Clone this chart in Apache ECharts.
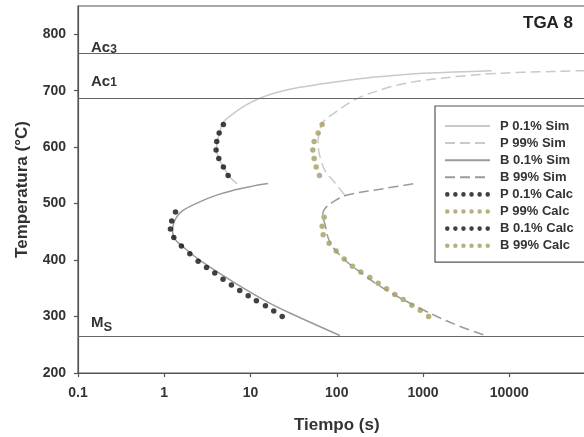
<!DOCTYPE html>
<html>
<head>
<meta charset="utf-8">
<script src="https://cdn.jsdelivr.net/npm/echarts@6/dist/echarts.min.js"></script>
<style>
html,body{margin:0;padding:0;overflow:hidden;background:#fff;}
#c{width:600px;height:437px;}
</style>
</head>
<body>
<div id="c"></div>
<script>
// ---- data ----
const xTickLabels = ['0.1', '1', '10', '100', '1000', '10000', ''];
const thresholdNames = ['Ac3', 'Ac1', 'Ms'];
const thresholdValues = [766, 687, 265];

const pSim01 = [[7.0,535.3],[5.75,547],[4.85,565],[4.3,580],[4.05,595],[4.1,610],[4.4,625],[4.8,644],[6.3,659],[8.5,673],[12.8,686.6],[20,696.8],[37.3,706],[90.8,715],[222,722.6],[540,728],[1000,731],[6250,735.5]];
const pSim99 = [[124,515],[95,537],[72.8,559],[66,576],[62,592],[60.8,606],[61.5,620],[63.7,632],[70,645],[90.8,659],[170,685.5],[347,703],[540,710.8],[1000,718],[2455,725],[5970,730],[14500,732.5],[72000,735.5],[100000,736]];
const bSim01 = [[16,535.5],[9.8,530],[6.3,523.5],[4.04,515],[2.58,503],[1.65,488],[1.39,476],[1.27,462],[1.25,450],[1.33,437],[1.58,426],[2.58,400],[6.3,361.4],[14.7,328.3],[28.6,306.2],[108.6,266.5]];
const bSim99 = [[769,535],[347,526.5],[130,514.7],[90.8,503],[72.8,491],[68.4,479],[72.8,464.6],[83.2,432],[118.6,403],[177,381.5],[347,350],[1000,312],[2450,285],[5720,265]];

const pCalcTemp = [640,625,610,595,580,565,550];
const pCalc01Time = [4.85,4.33,4.06,3.99,4.29,4.85,5.5];
const pCalc99Time = [67.7,60.8,54.7,52.8,54.7,57.7,63];
const bCalc01Temp = [485,469,455,440,425,411,398,387,377,366,356,346,337,328,319,310,300];
const bCalc01Time = [1.35,1.22,1.18,1.29,1.58,1.98,2.47,3.09,3.85,4.8,6.0,7.5,9.4,11.7,14.9,18.6,23.3];
const bCalc99Temp = [476,460,445,430,416,402,389,379,369,359,349,339,330,320,311,300];
const bCalc99Time = [71.4,67.7,69.6,81.6,98.4,122,152,190,242,302,378,472,589,743,929,1161];

// ---- build ----
const zip = (xs, ys) => xs.map((x, i) => [x, ys[i]]);
const FONT = 'Liberation Sans, Arial, sans-serif';
const TXT = '#333';
const LIGHT = '#c9c9c9';
const MID = '#9a9a9a';
const BLACK = '#111';
const OLIVE = '#a29d60';
const dotsIcon = 'path://M0.5,5A4.5,4.5,0,1,0,9.5,5A4.5,4.5,0,1,0,0.5,5Z M16.5,5A4.5,4.5,0,1,0,25.5,5A4.5,4.5,0,1,0,16.5,5Z M32.5,5A4.5,4.5,0,1,0,41.5,5A4.5,4.5,0,1,0,32.5,5Z M48.5,5A4.5,4.5,0,1,0,57.5,5A4.5,4.5,0,1,0,48.5,5Z M64.5,5A4.5,4.5,0,1,0,73.5,5A4.5,4.5,0,1,0,64.5,5Z M80.5,5A4.5,4.5,0,1,0,89.5,5A4.5,4.5,0,1,0,80.5,5Z';

const labelCfg = [
  {formatter: '{a|Ac}{b|3}', distance: [13, -2]},
  {formatter: '{a|Ac}{b|1}', distance: [13, 9]},
  {formatter: '{m|M}{s|S}', distance: [13, 2]}
];
const rich = {
  a: {fontSize: 15, fontWeight: 'bold', color: TXT, fontFamily: FONT, verticalAlign: 'bottom'},
  b: {fontSize: 12, fontWeight: 'bold', color: TXT, fontFamily: FONT, verticalAlign: 'bottom'},
  m: {fontSize: 15, fontWeight: 'bold', color: TXT, fontFamily: FONT, verticalAlign: 'bottom', padding: [0,0,4,0]},
  s: {fontSize: 13, fontWeight: 'bold', color: TXT, fontFamily: FONT, verticalAlign: 'bottom'}
};

const simLine = (name, data, color, dashed) => ({
  name, type: 'line', data, symbol: 'none', smooth: 0.4, z: 2,
  lineStyle: {color, width: 1.5, type: dashed ? [10, 5] : 'solid'},
  itemStyle: {color}
});
const calcDots = (name, data, color) => ({
  name, type: 'scatter', data, symbol: 'circle', symbolSize: 5.5, z: 4,
  itemStyle: {color}
});
const noSym = {opacity: 0, color: 'rgba(0,0,0,0)', borderWidth: 0};

const chart = echarts.init(document.getElementById('c'), null, {renderer: 'canvas'});
chart.setOption({
  animation: false,
  backgroundColor: '#fff',
  textStyle: {fontFamily: FONT},
  title: {
    text: 'TGA 8', left: 523, top: 15, padding: 0,
    textStyle: {fontSize: 17, fontWeight: 'bold', color: '#222', fontFamily: FONT}
  },
  grid: {left: 78, right: 4.5, top: 6, bottom: 64, containLabel: false, outerBoundsMode: 'none', show: true, borderColor: '#555', borderWidth: 1.2, backgroundColor: 'transparent'},
  legend: {
    orient: 'vertical', left: 435, top: 106, align: 'left',
    padding: [13.5, 11, 10, 9], itemGap: 4.1, itemWidth: 45, itemHeight: 13,
    backgroundColor: '#fff', borderColor: '#555', borderWidth: 1.2,
    textStyle: {fontSize: 13, fontWeight: 'bold', color: TXT, fontFamily: FONT, padding: [0,0,0,5]},
    data: [
      {name: 'P 0.1% Sim', itemStyle: noSym}, {name: 'P 99% Sim', itemStyle: noSym},
      {name: 'B 0.1% Sim', itemStyle: noSym}, {name: 'B 99% Sim', itemStyle: noSym},
      {name: 'P 0.1% Calc', icon: dotsIcon}, {name: 'P 99% Calc', icon: dotsIcon},
      {name: 'B 0.1% Calc', icon: dotsIcon}, {name: 'B 99% Calc', icon: dotsIcon}
    ]
  },
  xAxis: {
    type: 'log', logBase: 10, min: 0.1, max: 100000,
    name: 'Tiempo (s)', nameLocation: 'middle', nameGap: 44,
    nameTextStyle: {fontSize: 17, fontWeight: 'bold', color: TXT, fontFamily: FONT},
    axisLine: {lineStyle: {color: '#555', width: 1.2}},
    axisTick: {show: true, inside: false, length: 4, lineStyle: {color: '#555', width: 1.2}},
    minorTick: {show: false},
    splitLine: {show: false},
    axisLabel: {
      fontSize: 14, fontWeight: 'bold', color: TXT, fontFamily: FONT, margin: 13,
      showMaxLabel: false,
      formatter: (v, i) => xTickLabels[i] !== undefined ? xTickLabels[i] : ''
    }
  },
  yAxis: {
    type: 'value', min: 200, max: 850, interval: 100,
    name: 'Temperatura (°C)', nameLocation: 'middle', nameGap: 47,
    nameTextStyle: {fontSize: 17, fontWeight: 'bold', color: TXT, fontFamily: FONT},
    axisLine: {show: true, lineStyle: {color: '#555', width: 1.2}},
    axisTick: {show: true, inside: false, length: 4, lineStyle: {color: '#555', width: 1.2}},
    splitLine: {show: false},
    axisLabel: {fontSize: 14, fontWeight: 'bold', color: TXT, fontFamily: FONT, margin: 12, showMaxLabel: false}
  },
  series: [
    simLine('P 0.1% Sim', pSim01, LIGHT, false),
    simLine('P 99% Sim', pSim99, LIGHT, true),
    simLine('B 0.1% Sim', bSim01, MID, false),
    simLine('B 99% Sim', bSim99, MID, true),
    calcDots('P 0.1% Calc', zip(pCalc01Time, pCalcTemp), BLACK),
    calcDots('P 99% Calc', zip(pCalc99Time, pCalcTemp), OLIVE),
    calcDots('B 0.1% Calc', zip(bCalc01Time, bCalc01Temp), BLACK),
    calcDots('B 99% Calc', zip(bCalc99Time, bCalc99Temp), OLIVE),
    {
      name: 'thresholds', type: 'line', data: [], z: 1, silent: true,
      markLine: {
        silent: true, symbol: ['none', 'none'], animation: false,
        lineStyle: {color: '#666', width: 1.2, type: 'solid'},
        data: thresholdValues.map((v, i) => ({
          name: thresholdNames[i], yAxis: v,
          label: {show: true, position: 'insideStartTop', formatter: labelCfg[i].formatter, distance: labelCfg[i].distance, rich}
        }))
      }
    }
  ]
});
</script>
</body>
</html>
